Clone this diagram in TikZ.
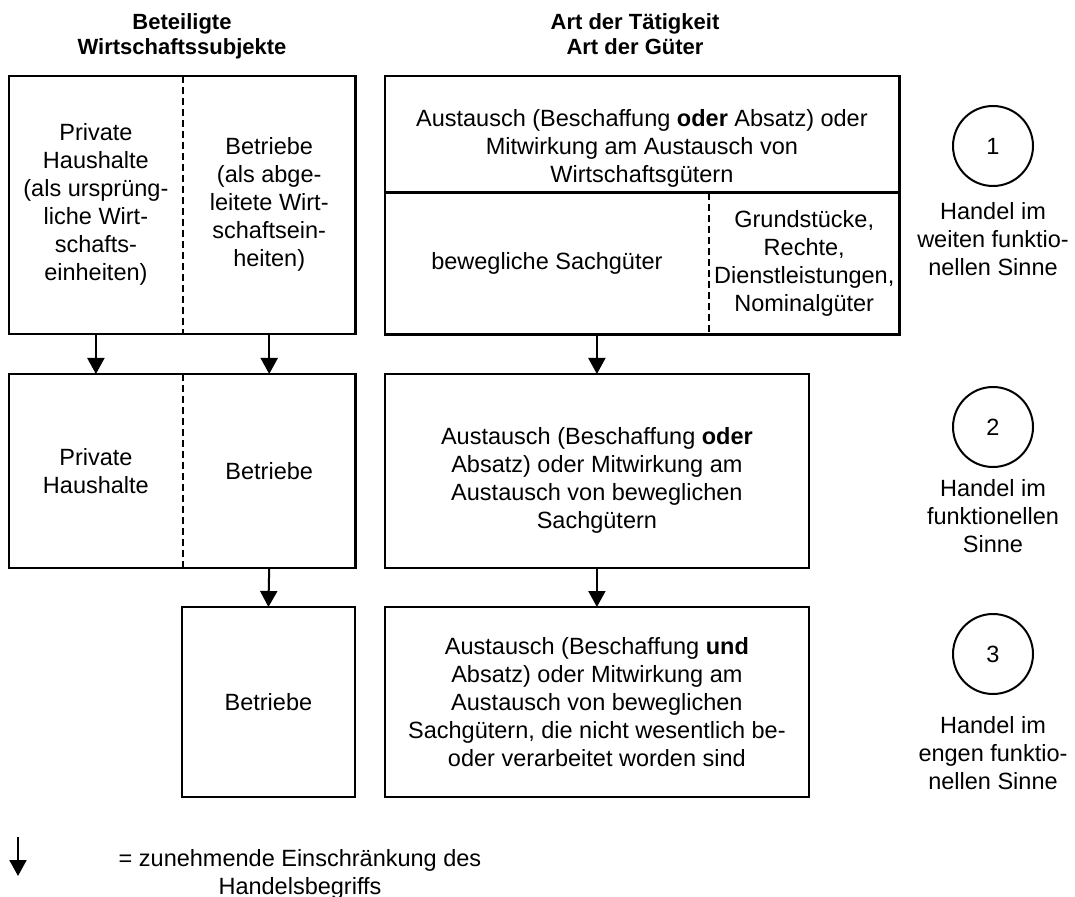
\documentclass[tikz,border=0pt]{standalone}
\usepackage{fontspec}
\setmainfont{Liberation Sans}
\usetikzlibrary{positioning,arrows.meta}

\begin{document}
\begin{tikzpicture}[x=0.5pt,y=-0.5pt,>={Triangle[length=8pt,width=8.5pt]},
  every node/.style={font=\fontsize{11.75pt}{14pt}\selectfont},
  cell/.style={inner sep=0pt,anchor=north west,align=center,minimum height=#1},
  frame/.style={draw,line width=1.15pt},
  split/.style={dash pattern=on 3.5pt off 2pt,line width=0.8pt},
  link/.style={->,line width=1pt},
  num/.style={draw,circle,line width=1pt,minimum size=40pt,inner sep=0pt},
  note/.style={align=center,anchor=north,inner sep=0pt},
  head/.style={align=center,anchor=north,inner sep=0pt,font=\bfseries\fontsize{11pt}{12.5pt}\selectfont}]
\useasboundingbox (0,0) rectangle (1075,897);

\node[head] (hSubj) at (182,13) {Beteiligte\\Wirtschaftssubjekte};
\node[head] (hArt) at (635,13) {Art der Tätigkeit\\Art der Güter};

\node[cell=128.5pt,minimum width=86.5pt] (privA) at (9,76) {Private\\Haushalte\\(als ursprüng-\\liche Wirt-\\schafts-\\einheiten)};
\node[cell=128.5pt,minimum width=86pt,right=0pt of privA] (betrA) {Betriebe\\(als abge-\\leitete Wirt-\\schaftsein-\\heiten)};
\node[cell=58pt,minimum width=256.5pt] (tatB) at (385,76) {};
\node[note,anchor=center] (tatBtext) at ([yshift=-7pt]tatB.center) {Austausch (Beschaffung \textbf{oder} Absatz) oder\\Mitwirkung am Austausch von\\Wirtschaftsgütern};
\node[cell=70.5pt,minimum width=161.5pt] (bewB) at (tatB.south west) {bewegliche Sachgüter};
\node[cell=70.5pt,minimum width=95pt,right=0pt of bewB] (gutB) {Grundstücke,\\Rechte,\\Dienstleistungen,\\Nominalgüter};

\node[cell=96.5pt,minimum width=86.5pt] (privC) at (9,374) {Private\\Haushalte};
\node[cell=96.5pt,minimum width=86pt,right=0pt of privC] (betrC) {Betriebe};
\node[cell=96.5pt,minimum width=211.5pt] (tatD) at (385,374) {};
\node[note,anchor=center] (tatDtext) at ([yshift=-5pt]tatD.center) {Austausch (Beschaffung \textbf{oder}\\Absatz) oder Mitwirkung am\\Austausch von beweglichen\\Sachgütern};

\node[cell=94.5pt,minimum width=86pt] (betrE) at (182,607) {Betriebe};
\node[cell=94.5pt,minimum width=211.5pt] (tatF) at (385,607) {Austausch (Beschaffung \textbf{und}\\Absatz) oder Mitwirkung am\\Austausch von beweglichen\\Sachgütern, die nicht wesentlich be-\\oder verarbeitet worden sind};

\draw[frame] (privA.north west) rectangle (betrA.south east);
\draw[frame] (tatB.north west) rectangle (gutB.south east);
\draw[frame,line width=1.6pt] (tatB.south west) -- (tatB.south east);
\draw[frame] (privC.north west) rectangle (betrC.south east);
\draw[frame] (tatD.north west) rectangle (tatD.south east);
\draw[frame] (betrE.north west) rectangle (betrE.south east);
\draw[frame] (tatF.north west) rectangle (tatF.south east);
\draw[split] (privA.north east) -- (privA.south east);
\draw[split] (bewB.north east) -- (bewB.south east);
\draw[split] (privC.north east) -- (privC.south east);

\draw[link] (privA.south) -- (privC.north);
\draw[link] (betrA.south) -- (betrC.north);
\draw[link] (tatD.north |- bewB.south) -- (tatD.north);
\draw[link] (betrC.south) -- (betrE.north);
\draw[link] (tatD.south) -- (tatF.north);

\node[num] (c1) at (993,146) {1};
\node[num] (c2) at (993,427) {2};
\node[num] (c3) at (993,654) {3};
\node[note] (n1) at (993,202) {Handel im\\weiten funktio-\\nellen Sinne};
\node[note] (n2) at (993,479) {Handel im\\funktionellen\\Sinne};
\node[note] (n3) at (993,716) {Handel im\\engen funktio-\\nellen Sinne};

\coordinate (legTop) at (18,837);
\coordinate (legBot) at (18,876);
\draw[link] (legTop) -- (legBot);
\node[note] (legText) at (300,849) {= zunehmende Einschränkung des\\Handelsbegriffs};
\end{tikzpicture}
\end{document}
